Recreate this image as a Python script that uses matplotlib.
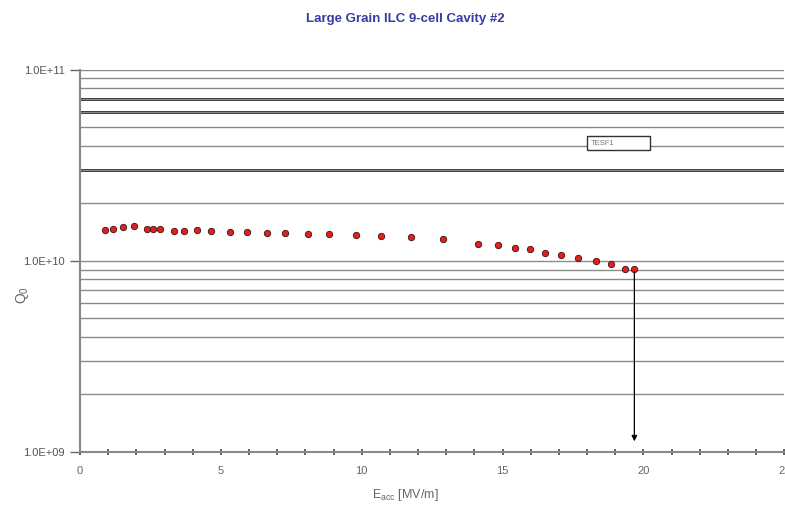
import numpy as np
import matplotlib
matplotlib.use("Agg")
from matplotlib import pyplot as plt
from matplotlib.ticker import LogLocator, MultipleLocator, FixedLocator, NullFormatter

plt.rcParams['font.family'] = ['Liberation Sans', 'DejaVu Sans']

e_acc = [0.89, 1.17, 1.53, 1.92, 2.38, 2.60, 2.85, 3.35, 3.70, 4.16, 4.66,
         5.34, 5.94, 6.62, 7.26, 8.11, 8.83, 9.79, 10.68, 11.74, 12.88,
         14.13, 14.84, 15.44, 15.98, 16.51, 17.08, 17.69, 18.33, 18.86,
         19.33, 19.68]
q0 = [1.45e10, 1.46e10, 1.50e10, 1.52e10, 1.47e10, 1.46e10, 1.46e10,
      1.44e10, 1.44e10, 1.45e10, 1.43e10, 1.42e10, 1.42e10, 1.40e10,
      1.40e10, 1.39e10, 1.38e10, 1.37e10, 1.35e10, 1.33e10, 1.30e10,
      1.23e10, 1.21e10, 1.17e10, 1.15e10, 1.10e10, 1.07e10, 1.04e10,
      1.00e10, 0.96e10, 0.91e10, 0.91e10]
series_name = 'TESF1'
y_ticks = [1e9, 1e10, 1e11]
y_tick_labels = ['1.0E+09', '1.0E+10', '1.0E+11']
heavy_lines = [3e10, 6e10, 7e10]

fig = plt.figure(figsize=(7.85, 5.09), dpi=100)
ax = fig.add_axes([0.102, 0.112, 0.897, 0.751])

ax.set_yscale('log')
ax.set_xlim(0, 25)
ax.set_ylim(1e9, 1e11)

# horizontal grid lines on every decade step
ax.yaxis.set_major_locator(FixedLocator(y_ticks))
ax.yaxis.set_minor_locator(LogLocator(base=10, subs=np.arange(2, 10)))
ax.yaxis.set_minor_formatter(NullFormatter())
ax.set_yticklabels(y_tick_labels)
ax.grid(True, which='both', axis='y', color='#8a8a8a', lw=1.0)
for h in heavy_lines:
    ax.axhline(h, color='#1a1a1a', lw=2.0, zorder=1)

ax.xaxis.set_major_locator(MultipleLocator(5))
ax.xaxis.set_minor_locator(MultipleLocator(1))

ax.tick_params(axis='y', which='major', length=7, color='#666666', labelsize=8,
               labelcolor='#555555', width=1, pad=4)
ax.tick_params(axis='y', which='minor', length=0)
ax.tick_params(axis='x', which='both', direction='inout', length=4, color='#444444',
               labelsize=8, labelcolor='#666666', width=1.2, pad=8)

for side in ['top', 'right']:
    ax.spines[side].set_visible(False)
for side in ['left', 'bottom']:
    ax.spines[side].set_color('#888888')
    ax.spines[side].set_linewidth(1.5)

ax.plot(e_acc, q0, 'o', color='#e02020', mec='#401010', mew=0.6, ms=4.6,
        label=series_name, zorder=3)

# quench arrow from the last point down to the axis
ax.annotate('', xy=(e_acc[-1], 1.1e9), xytext=(e_acc[-1], q0[-1]),
            arrowprops=dict(arrowstyle='-|>', color='black', lw=0.9,
                            mutation_scale=8), zorder=3)

leg = ax.legend(loc='upper left', bbox_to_anchor=(0.72, 0.826), fontsize=5.5,
                handlelength=4.2, handletextpad=0, markerscale=0, markerfirst=False,
                frameon=True, fancybox=False, borderpad=0.45, borderaxespad=0)
leg.get_frame().set_edgecolor('#333333')
leg.get_frame().set_linewidth(1.0)
leg.get_frame().set_alpha(1)
for t in leg.get_texts():
    t.set_color('#777777')

fig.text(0.516, 0.963, 'Large Grain ILC 9-cell Cavity #2', fontsize=9.5,
         fontweight='bold', color='#3a3aa0', ha='center', va='center')
ax.set_xlabel(r'E$_{\mathregular{acc}}$ [MV/m]', fontsize=9, color='#666666')
ax.xaxis.set_label_coords(0.462, -0.092)
ax.set_ylabel(r'Q$_\mathregular{0}$', fontsize=10, color='#666666')
ax.yaxis.set_label_coords(-0.07, 0.41)

fig.savefig('out.png', dpi=100, facecolor='white')
